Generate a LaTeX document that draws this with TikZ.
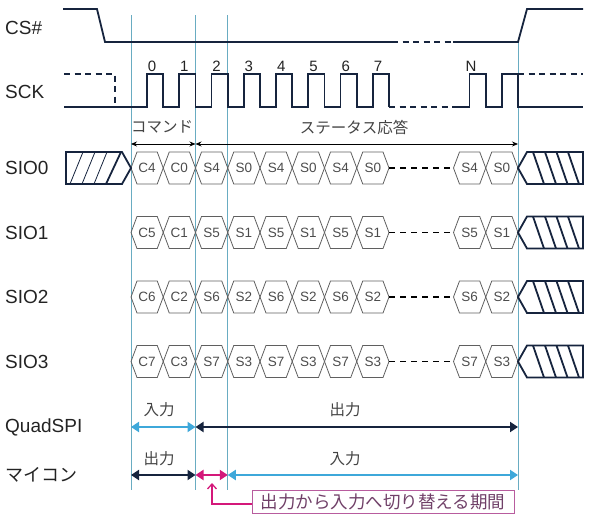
\documentclass[tikz,border=0pt]{standalone}
\usepackage{fontspec}
\setmainfont{Liberation Sans}
\newfontfamily\jpfont{Noto Sans CJK JP}
\usetikzlibrary{arrows.meta}

\definecolor{navyC}{RGB}{22,36,62}
\definecolor{guideC}{RGB}{105,172,194}
\definecolor{hexC}{RGB}{95,95,95}
\definecolor{lblueC}{RGB}{62,168,218}
\definecolor{mgntaC}{RGB}{212,24,122}
\definecolor{noteC}{RGB}{184,92,158}
\definecolor{noteT}{RGB}{112,64,104}
\definecolor{txtC}{RGB}{35,35,35}

\begin{document}
\begin{tikzpicture}[
    x=1pt,
    y=-1pt,
    sigLine/.style={draw=navyC, line width=1.8pt, line join=miter},
    sigDash/.style={sigLine, dash pattern=on 6pt off 4.5pt},
    guideLine/.style={draw=guideC, line width=0.9pt},
    hexPath/.style={draw=hexC, line width=0.8pt},
    hexText/.style={text=hexC!80!black, font=\fontsize{13.5}{14}\selectfont, inner sep=0},
    gapDash/.style={draw=black, line width=1.3pt, dash pattern=on 6pt off 5pt},
    hatchBox/.style={draw=navyC, line width=1.8pt},
    hatchThin/.style={draw=navyC, line width=0.8pt},
    sigName/.style={text=txtC, font=\fontsize{19}{19}\selectfont, anchor=west, inner sep=0},
    clkNum/.style={text=txtC, font=\fontsize{15}{15}\selectfont, inner sep=0},
    jpLabel/.style={text=txtC!85!white, font=\jpfont\fontsize{15.5}{16}\selectfont, inner sep=0},
    phaseArrow/.style={draw=black, line width=0.8pt,
        {Stealth[length=6pt,width=5pt]}-{Stealth[length=6pt,width=5pt]}},
    dirArrow/.style={line width=2.4pt,
        {Triangle[length=8pt,width=10pt]}-{Triangle[length=8pt,width=10pt]}},
    noteBox/.style={draw=noteC, line width=0.9pt, text=noteT,
        font=\jpfont\fontsize{17.5}{18}\selectfont,
        minimum width=262pt, minimum height=23pt, inner sep=0},
    noteArrow/.style={draw=mgntaC, line width=1.3pt, -{Straight Barb[length=5pt,width=9pt]}}
]
\path[use as bounding box] (0,0) rectangle (590,528);

% Guide lines at the phase boundaries.
\foreach \n/\x/\top in {a/131/15, b/195.5/15, c/227.75/15, d/518/42} {
    \draw[guideLine] (\x,\top) -- (\x,490);
}

% Signal names.
\node[sigName] (nCS) at (5,28) {CS\#};
\node[sigName] (nSCK) at (5,92) {SCK};
\foreach \r/\y in {0/168,1/232.5,2/297,3/361.5} {
    \node[sigName] (nSIO\r) at (5,\y) {SIO\r};
}
\node[sigName] (nQSPI) at (5,427) {QuadSPI};
\node[sigName, font=\jpfont\fontsize{18}{18}\selectfont] (nMCU) at (5,475) {マイコン};

% CS#
\draw[sigLine] (63,9) -- (97,9) -- (105,42) -- (392,42);
\draw[sigDash] (392,42) -- (453,42);
\draw[sigLine] (453,42) -- (518,42) -- (527,9) -- (583,9);

% SCK
\draw[sigDash] (64,74) -- (115,74) -- (115,107);
\draw[sigLine] (64,107) -- (147,107)
    \foreach \k in {0,...,6} {
        -- (147+32.25*\k,74) -- (163.25+32.25*\k,74) -- (163.25+32.25*\k,107)
        -- (179.25+32.25*\k,107)
    }
    -- (372.75,74) -- (389,74) -- (389,107);
\draw[sigDash] (389,107) -- (453.5,107);
\draw[sigLine] (453.5,107) -- (469.5,107) -- (469.5,74) -- (485.75,74)
    -- (485.75,107) -- (502,107) -- (502,74) -- (518,74) -- (518,107) -- (583,107);
\draw[sigDash] (518,74) -- (583,74);

% Clock numbers
\foreach \k in {0,...,7} {
    \node[clkNum, anchor=base] (clk\k) at (152+32.3*\k,71) {\k};
}
\node[clkNum, anchor=base] (clkN) at (471,71) {N};

% Phase span arrows
\coordinate (pa) at (131,144);
\coordinate (pb) at (195.5,144);
\coordinate (pd) at (518,144);
\draw[phaseArrow] (pa) -- (pb);
\draw[phaseArrow] (pb) -- (pd);
\node[jpLabel] (cmd) at (162,127) {コマンド};
\node[jpLabel] (resp) at (354,127) {ステータス応答};

% SIO0..SIO3 data cells
\foreach \r/\y in {0/168,1/232.5,2/297,3/361.5} {
    \pgfmathtruncatemacro{\hi}{\r+4}
    \foreach \i/\x/\t in {0/131/C\hi,1/163.25/C\r,2/195.5/S\hi,3/227.75/S\r,
                          4/260/S\hi,5/292.25/S\r,6/324.5/S\hi,7/356.75/S\r,
                          8/453.5/S\hi,9/485.75/S\r} {
        \draw[hexPath] (\x,\y) -- (\x+6,\y-16) -- (\x+26.25,\y-16) -- (\x+32.25,\y)
            -- (\x+26.25,\y+16) -- (\x+6,\y+16) -- cycle;
        \node[hexText] (c\r-\i) at (\x+16.125,\y) {\t};
    }
    \draw[gapDash] (389,\y) -- (453.5,\y);
    % hatched end of transfer
    \draw[hatchBox] (518,\y) -- (527,\y-16) -- (583,\y-16) -- (583,\y+16)
        -- (527,\y+16) -- cycle;
    \foreach \h in {533,545,556.5,568} {
        \draw[hatchBox] (\h,\y-16) -- (\h+11,\y+16);
    }
}

% hatched start on SIO0
\draw[hatchBox] (66,152) -- (122,152) -- (131,168) -- (122,184) -- (66,184) -- cycle;
\foreach \h in {70,82,94} {
    \draw[hatchThin] (\h,184) -- (\h+13,152);
}
\draw[hatchBox] (106,184) -- (121,152);

% Direction: QuadSPI
\coordinate (qa) at (131,427);
\coordinate (qb) at (195.5,427);
\coordinate (qd) at (518,427);
\draw[dirArrow, draw=lblueC, fill=lblueC] (qa) -- (qb);
\draw[dirArrow, draw=navyC, fill=navyC] (qb) -- (qd);
\node[jpLabel] (qIn) at (159,410) {入力};
\node[jpLabel] (qOut) at (345,410) {出力};

% Direction: MCU
\coordinate (ma) at (131,475);
\coordinate (mb) at (195.5,475);
\coordinate (mc) at (227.75,475);
\coordinate (md) at (518,475);
\draw[dirArrow, draw=navyC, fill=navyC] (ma) -- (mb);
\draw[dirArrow, draw=mgntaC, fill=mgntaC] (mb) -- (mc);
\draw[dirArrow, draw=lblueC, fill=lblueC] (mc) -- (md);
\node[jpLabel] (mOut) at (159,459) {出力};
\node[jpLabel] (mIn) at (345,459) {入力};

% Turnaround note
\node[noteBox] (note) at (383,501.5) {出力から入力へ切り替える期間};
\coordinate (turn) at (212,483);
\draw[noteArrow] ([yshift=-2.5pt]note.west) -| (turn);
\end{tikzpicture}
\end{document}
